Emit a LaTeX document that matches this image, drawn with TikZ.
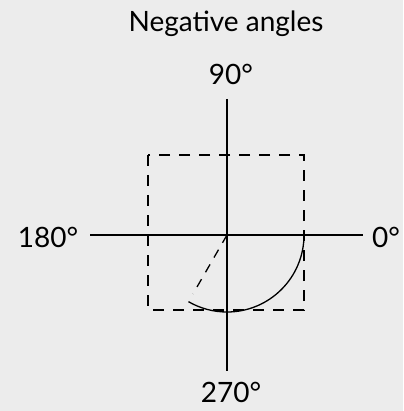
\documentclass[tikz,border=0pt]{standalone}
\usepackage{fontspec}
\setmainfont{Lato}
\begin{document}
\begin{tikzpicture}[x=1pt,y=-1pt,
  axis/.style={line width=1.6pt,black},
  dashbox/.style={line width=1.6pt,dash pattern=on 11pt off 9pt},
  lbl/.style={font=\fontsize{28}{32}\selectfont,inner sep=0pt}]
\fill[gray!15] (0,0) rectangle (403,411);
\useasboundingbox (0,0) rectangle (403,411);
\coordinate (O) at (227,235);
\coordinate (L) at (90,235);
\coordinate (R) at (363,235);
\coordinate (T) at (227,99);
\coordinate (B) at (227,371);
\node[lbl] (title) at (226,24) {Negative angles};
\node[lbl] (n90) at (231,74) {90°};
\node[lbl] (n180) at (48,237) {180°};
\node[lbl] (n0) at (386,237) {0°};
\node[lbl] (n270) at (231,392) {270°};
\draw[axis] (L) -- (R);
\draw[axis] (T) -- (B);
\draw[dashbox] (148,155) rectangle (304,310);
\draw[line width=1.3pt] (304,235) arc[start angle=0,end angle=120,radius=77];
\draw[line width=1.3pt,dash pattern=on 9pt off 8pt] (O) -- ++(120:68);
\end{tikzpicture}
\end{document}
